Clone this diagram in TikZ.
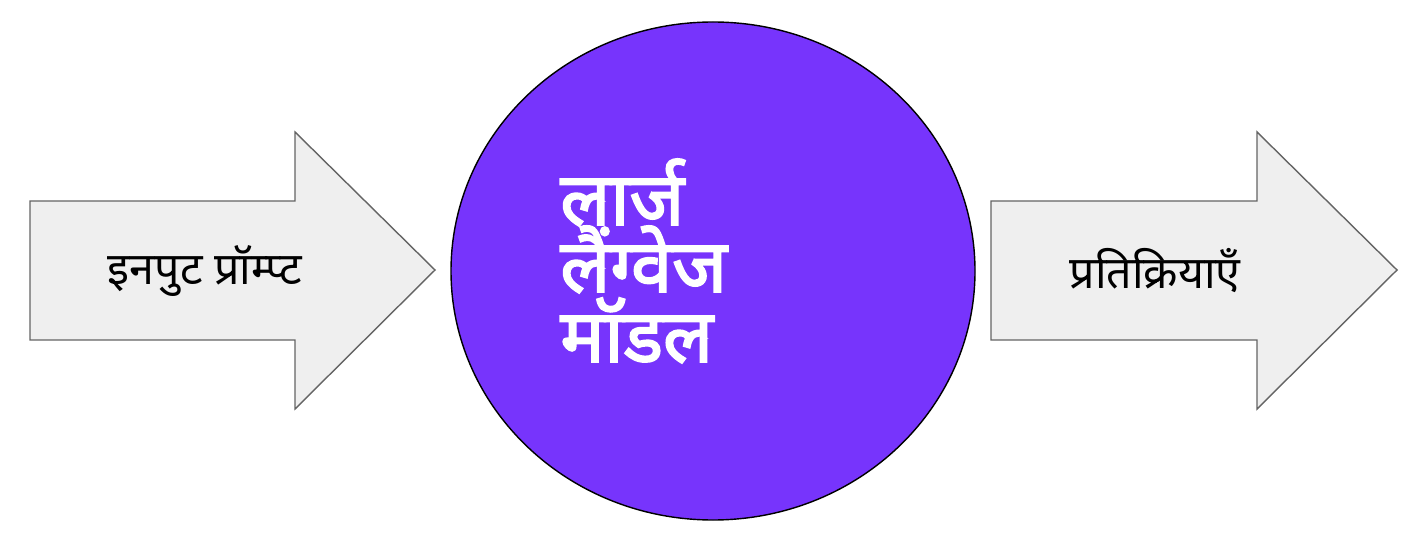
\documentclass[tikz,border=0pt]{standalone}
\usepackage{fontspec}
\newfontfamily\devreg[Script=Devanagari]{Noto Sans}
\newfontfamily\devheavy[Script=Devanagari, FakeBold=2.5]{Noto Sans}
\definecolor{llmviolet}{RGB}{119,52,252}
\definecolor{arrowfill}{RGB}{239,239,239}
\definecolor{arrowline}{RGB}{100,100,100}
\tikzset{
  bigarrow/.style={fill=arrowfill, draw=arrowline, line width=0.8pt, line join=miter},
  arrowtext/.style={font=\devreg\fontsize{25.5}{28}\selectfont, text=black},
  circletext/.style={font=\devheavy\fontsize{42}{42}\selectfont, text=white, anchor=base west, inner sep=0pt}
}
\begin{document}
\begin{tikzpicture}[x=0.02cm, y=-0.02cm]
\fill[white] (0,0) rectangle (1412,550);
\useasboundingbox (0,0) rectangle (1412,550);
% left arrow
\draw[bigarrow] (30,201) -- (295,201) -- (295,132) -- (435,270) -- (295,409) -- (295,340) -- (30,340) -- cycle;
\node[arrowtext] (inp) at (205,271) {इनपुट प्रॉम्प्ट};
% circle
\draw[fill=llmviolet, draw=black, line width=0.8pt] (713,271) ellipse [x radius=262, y radius=249];
\node[circletext] (llm1) at (560,225) {लार्ज};
\node[circletext] (llm2) at (560,292) {लैंग्वेज};
\node[circletext] (llm3) at (560,362) {मॉडल};
% right arrow
\draw[bigarrow] (991,201) -- (1257,201) -- (1257,132) -- (1397,270) -- (1257,409) -- (1257,340) -- (991,340) -- cycle;
\node[arrowtext] (out) at (1155,271) {प्रतिक्रियाएँ};
\end{tikzpicture}
\end{document}
